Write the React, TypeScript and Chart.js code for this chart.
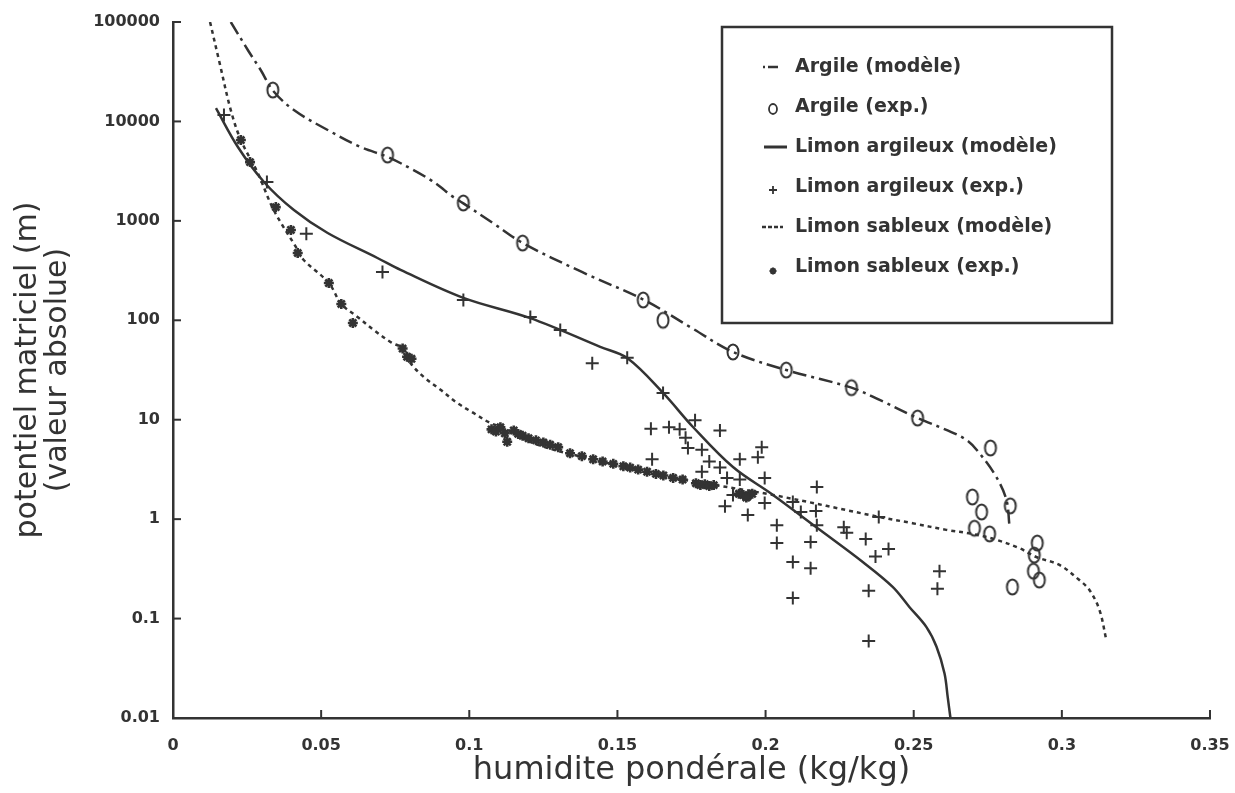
import React, { useEffect, useRef } from 'react';
import { Chart, registerables } from 'chart.js';

Chart.register(...registerables);

const INK = '#333333';

const X_TICKS = [0, 0.05, 0.1, 0.15, 0.2, 0.25, 0.3, 0.35];
const X_TICK_LABELS = ['0', '0.05', '0.1', '0.15', '0.2', '0.25', '0.3', '0.35'];
const Y_TICKS = [0.01, 0.1, 1, 10, 100, 1000, 10000, 100000];
const Y_TICK_LABELS = ['0.01', '0.1', '1', '10', '100', '1000', '10000', '100000'];

const X_TITLE = 'humidite pondérale (kg/kg)';
const Y_TITLE = ['potentiel matriciel (m)', '(valeur absolue)'];

const LEGEND_LABELS = [
  'Argile (modèle)',
  'Argile (exp.)',
  'Limon argileux (modèle)',
  'Limon argileux (exp.)',
  'Limon sableux (modèle)',
  'Limon sableux (exp.)',
];

// Argile (modèle)
const ARG_MODEL_X = [0.0195, 0.0253, 0.0296, 0.0337, 0.0408, 0.0522, 0.0633, 0.0724, 0.0812, 0.087, 0.0903, 0.0936, 0.098, 0.108, 0.118, 0.138, 0.159, 0.175, 0.189, 0.207, 0.229, 0.2385, 0.2513, 0.261, 0.2678, 0.2722, 0.2779, 0.2813, 0.2823];
const ARG_MODEL_Y = [100000, 52000, 32900, 20500, 13000, 8200, 5530, 4400, 3240, 2570, 2190, 1820, 1500, 950, 600, 306, 160, 84, 48, 31.6, 21, 15.8, 10.4, 7.9, 6.25, 4.6, 2.65, 1.56, 0.87];

// Argile (exp.)
const ARG_EXP_X = [0.0337, 0.0724, 0.098, 0.118, 0.1587, 0.1654, 0.189, 0.207, 0.229, 0.2513, 0.2759, 0.2698, 0.2729, 0.2826, 0.2705, 0.2756, 0.2917, 0.2907, 0.2904, 0.2924, 0.2833];
const ARG_EXP_Y = [20700, 4590, 1514, 598, 160, 100, 48, 31.6, 21, 10.4, 5.2, 1.67, 1.18, 1.36, 0.81, 0.71, 0.575, 0.435, 0.3, 0.244, 0.208];

// Limon argileux (modèle)
const LA_MODEL_X = [0.0145, 0.0219, 0.0307, 0.0408, 0.0522, 0.069, 0.0768, 0.098, 0.1206, 0.1442, 0.1533, 0.1654, 0.1755, 0.189, 0.2025, 0.2183, 0.2328, 0.2429, 0.2486, 0.2543, 0.2577, 0.2604, 0.2615, 0.2624];
const LA_MODEL_Y = [13600, 5530, 2460, 1285, 755, 423, 321, 168, 105, 54, 41.7, 18.6, 8.45, 3.34, 1.75, 0.78, 0.37, 0.208, 0.13, 0.082, 0.052, 0.028, 0.016, 0.01];

// Limon argileux (exp.)
const LA_EXP_X = [0.0172, 0.0317, 0.045, 0.0707, 0.098, 0.1206, 0.1307, 0.1415, 0.1533, 0.1654, 0.1613, 0.1674, 0.171, 0.1762, 0.1846, 0.173, 0.1738, 0.1785, 0.181, 0.1785, 0.1846, 0.187, 0.1913, 0.1913, 0.1987, 0.1974, 0.1997, 0.1617, 0.189, 0.1863, 0.194, 0.1997, 0.2038, 0.2038, 0.2092, 0.2092, 0.2152, 0.2152, 0.2173, 0.217, 0.2173, 0.2119, 0.2092, 0.2264, 0.2274, 0.2338, 0.2371, 0.2415, 0.2382, 0.2348, 0.2348, 0.2587, 0.258];
const LA_EXP_Y = [11600, 2460, 740, 306, 160, 108, 80, 37, 42, 18.6, 8.1, 8.4, 8.0, 9.9, 7.8, 6.6, 5.2, 5.0, 3.8, 3.0, 3.3, 2.6, 4.0, 2.5, 5.3, 4.2, 2.6, 4.0, 1.75, 1.35, 1.1, 1.45, 0.87, 0.575, 0.37, 0.161, 0.59, 0.32, 2.1, 1.21, 0.87, 1.18, 1.49, 0.83, 0.73, 0.63, 0.42, 0.5, 1.05, 0.19, 0.0595, 0.3, 0.2];

// Limon sableux (modèle)
const LS_MODEL_X = [0.0125, 0.0155, 0.0195, 0.0229, 0.0286, 0.034, 0.0421, 0.0441, 0.0526, 0.0568, 0.0623, 0.0677, 0.0734, 0.0775, 0.0802, 0.0846, 0.0903, 0.096, 0.1014, 0.107, 0.1115, 0.1216, 0.1398, 0.1576, 0.1688, 0.2025, 0.2385, 0.2496, 0.261, 0.2698, 0.2779, 0.2857, 0.2914, 0.2992, 0.3059, 0.3093, 0.3127, 0.315];
const LS_MODEL_Y = [100000, 41500, 13000, 6500, 3030, 1285, 510, 404, 237, 146, 108, 80, 60.5, 52, 37, 27, 20, 14.7, 11.7, 9.3, 8.3, 5.8, 4.1, 3.1, 2.6, 1.75, 1.05, 0.91, 0.78, 0.71, 0.62, 0.51, 0.416, 0.346, 0.244, 0.194, 0.122, 0.061];

// Limon sableux (exp.)
const LS_EXP_X = [0.0229, 0.026, 0.0347, 0.0398, 0.0421, 0.0526, 0.0568, 0.0607, 0.0775, 0.079, 0.0805, 0.1075, 0.109, 0.1105, 0.112, 0.1128, 0.115, 0.1165, 0.118, 0.12, 0.1225, 0.125, 0.1273, 0.13, 0.134, 0.138, 0.1418, 0.145, 0.1486, 0.152, 0.1543, 0.157, 0.16, 0.163, 0.1655, 0.1688, 0.172, 0.1765, 0.178, 0.1795, 0.181, 0.1825, 0.191, 0.1925, 0.194, 0.1955, 0.1935];
const LS_EXP_Y = [6500, 3900, 1375, 810, 475, 237, 146, 94, 52, 43, 41, 8.0, 7.6, 8.4, 7.3, 6.0, 7.8, 7.2, 6.9, 6.5, 6.2, 5.9, 5.6, 5.3, 4.6, 4.3, 4.0, 3.8, 3.6, 3.4, 3.3, 3.15, 3.0, 2.85, 2.75, 2.6, 2.5, 2.3, 2.2, 2.25, 2.15, 2.2, 1.8, 1.75, 1.7, 1.8, 1.65];

const toPoints = (xs: number[], ys: number[]) => xs.map((x, i) => ({ x, y: ys[i] }));

const ARG_DASH = [14, 5, 3, 5];
const LS_DASH = [4, 4];

function drawEllipse(ctx: CanvasRenderingContext2D, x: number, y: number, rx: number, ry: number, lw: number) {
  ctx.save();
  ctx.strokeStyle = INK;
  ctx.lineWidth = lw;
  ctx.beginPath();
  ctx.ellipse(x, y, rx, ry, 0, 0, Math.PI * 2);
  ctx.stroke();
  ctx.restore();
}

const decorPlugin = {
  id: 'decor',
  afterDraw(chart: any) {
    const ctx: CanvasRenderingContext2D = chart.ctx;
    const area = chart.chartArea;
    const xs = chart.scales.x;
    const ys = chart.scales.y;
    ctx.save();
    ctx.strokeStyle = INK;
    ctx.fillStyle = INK;
    ctx.lineWidth = 2;
    // inward tick marks
    X_TICKS.forEach((v) => {
      if (v === X_TICKS[0]) return;
      const px = xs.getPixelForValue(v);
      ctx.beginPath();
      ctx.moveTo(px, area.bottom);
      ctx.lineTo(px, area.bottom - 8);
      ctx.stroke();
    });
    Y_TICKS.forEach((v) => {
      if (v === Y_TICKS[0]) return;
      const py = ys.getPixelForValue(v);
      ctx.beginPath();
      ctx.moveTo(area.left, py);
      ctx.lineTo(area.left + 8, py);
      ctx.stroke();
    });

    // axis titles
    ctx.font = '32px "DejaVu Sans"';
    ctx.textAlign = 'center';
    ctx.textBaseline = 'middle';
    ctx.fillText(X_TITLE, (area.left + area.right) / 2, 771);
    ctx.font = '30px "DejaVu Sans"';
    const cy = (area.top + area.bottom) / 2;
    ctx.save();
    ctx.translate(28, cy);
    ctx.rotate(-Math.PI / 2);
    ctx.fillText(Y_TITLE[0], 0, 0);
    ctx.restore();
    ctx.save();
    ctx.translate(58, cy);
    ctx.rotate(-Math.PI / 2);
    ctx.fillText(Y_TITLE[1], 0, 0);
    ctx.restore();

    // legend box
    const bx = 722, by = 27, bw = 390, bh = 296;
    ctx.lineWidth = 2.5;
    ctx.strokeRect(bx, by, bw, bh);
    const rowY = [67, 107, 147, 187, 227, 267];
    ctx.font = 'bold 19px "DejaVu Sans"';
    ctx.textAlign = 'left';
    ctx.textBaseline = 'middle';
    LEGEND_LABELS.forEach((t, i) => ctx.fillText(t, 795, rowY[i]));
    // samples
    ctx.lineWidth = 2.5;
    ctx.setLineDash([2, 3, 10, 100]);
    ctx.beginPath(); ctx.moveTo(763, rowY[0]); ctx.lineTo(782, rowY[0]); ctx.stroke();
    ctx.setLineDash([]);
    drawEllipse(ctx, 773, rowY[1] + 2, 4, 5, 1.8);
    ctx.lineWidth = 3;
    ctx.beginPath(); ctx.moveTo(764, rowY[2]); ctx.lineTo(787, rowY[2]); ctx.stroke();
    ctx.lineWidth = 1.8;
    ctx.beginPath();
    ctx.moveTo(769, rowY[3] + 3); ctx.lineTo(777, rowY[3] + 3);
    ctx.moveTo(773, rowY[3] - 1); ctx.lineTo(773, rowY[3] + 7);
    ctx.stroke();
    ctx.lineWidth = 2.5;
    ctx.setLineDash([4, 2]);
    ctx.beginPath(); ctx.moveTo(762, rowY[4]); ctx.lineTo(783, rowY[4]); ctx.stroke();
    ctx.setLineDash([]);
    ctx.lineWidth = 2;
    const sx = 773, sy = rowY[5] + 4, r = 3.5;
    ctx.beginPath();
    for (let k = 0; k < 4; k++) {
      const a = (k * Math.PI) / 4;
      ctx.moveTo(sx - r * Math.cos(a), sy - r * Math.sin(a));
      ctx.lineTo(sx + r * Math.cos(a), sy + r * Math.sin(a));
    }
    ctx.stroke();
    ctx.restore();
  },
};

export default function App() {
  const ref = useRef<HTMLCanvasElement>(null);

  useEffect(() => {
    document.body.style.margin = '0';
    const canvas = ref.current;
    if (!canvas) return;

    const ell = document.createElement('canvas');
    ell.width = 16;
    ell.height = 20;
    const ec = ell.getContext('2d');
    if (ec) {
      ec.strokeStyle = INK;
      ec.lineWidth = 2;
      ec.beginPath();
      ec.ellipse(8, 10, 5.5, 7.5, 0, 0, Math.PI * 2);
      ec.stroke();
    }

    const tickFont = { family: '"DejaVu Sans"', size: 16, weight: 'bold' as const };
    const lineBase = { showLine: true, borderColor: INK, borderWidth: 2.5, pointRadius: 0, tension: 0.35 };

    const chart = new Chart(canvas, {
      type: 'scatter',
      data: {
        datasets: [
          { ...lineBase, label: LEGEND_LABELS[0], data: toPoints(ARG_MODEL_X, ARG_MODEL_Y), borderDash: ARG_DASH },
          { ...lineBase, label: LEGEND_LABELS[2], data: toPoints(LA_MODEL_X, LA_MODEL_Y) },
          { ...lineBase, label: LEGEND_LABELS[4], data: toPoints(LS_MODEL_X, LS_MODEL_Y), borderDash: LS_DASH },
          {
            label: LEGEND_LABELS[1],
            data: toPoints(ARG_EXP_X, ARG_EXP_Y),
            showLine: false,
            pointStyle: ell,
            pointRadius: 7,
          },
          {
            label: LEGEND_LABELS[3],
            data: toPoints(LA_EXP_X, LA_EXP_Y),
            showLine: false,
            pointStyle: 'cross',
            pointRadius: 6.5,
            pointBorderWidth: 2,
            pointBorderColor: INK,
          },
          {
            label: LEGEND_LABELS[5],
            data: toPoints(LS_EXP_X, LS_EXP_Y),
            showLine: false,
            pointStyle: 'star',
            pointRadius: 5,
            pointBorderWidth: 2.6,
            pointBorderColor: INK,
          },
        ],
      },
      options: {
        animation: false,
        responsive: false,
        devicePixelRatio: 1,
        layout: { padding: { top: 22, right: 25, left: 0, bottom: 0 } },
        plugins: {
          legend: { display: false },
          tooltip: { enabled: false },
        },
        scales: {
          x: {
            type: 'linear',
            min: 0,
            max: 0.35,
            afterBuildTicks: (s: any) => {
              s.ticks = X_TICKS.map((v) => ({ value: v }));
            },
            afterFit: (s: any) => {
              s.height = 75;
              s.paddingLeft = 0;
              s.paddingRight = 0;
            },
            ticks: {
              autoSkip: false,
              maxRotation: 0,
              padding: 18,
              color: INK,
              font: tickFont,
              callback: (v: any) => X_TICK_LABELS[X_TICKS.indexOf(Number(v))],
            },
            grid: { display: false, drawTicks: false },
            border: { display: true, color: INK, width: 2.5 },
          },
          y: {
            type: 'logarithmic',
            min: 0.01,
            max: 100000,
            afterBuildTicks: (s: any) => {
              s.ticks = Y_TICKS.map((v) => ({ value: v }));
            },
            afterFit: (s: any) => {
              s.width = 173;
              s.paddingTop = 0;
              s.paddingBottom = 0;
            },
            ticks: {
              autoSkip: false,
              padding: 13,
              color: INK,
              font: tickFont,
              callback: (v: any) => Y_TICK_LABELS[Y_TICKS.indexOf(Number(v))],
            },
            grid: { display: false, drawTicks: false },
            border: { display: true, color: INK, width: 2.5 },
          },
        },
      },
      plugins: [decorPlugin],
    } as any);

    return () => chart.destroy();
  }, []);

  return (
    <div style={{ width: 1235, height: 793, position: 'relative' }}>
      <canvas ref={ref} width={1235} height={793} style={{ display: 'block', width: 1235, height: 793 }} />
    </div>
  );
}
